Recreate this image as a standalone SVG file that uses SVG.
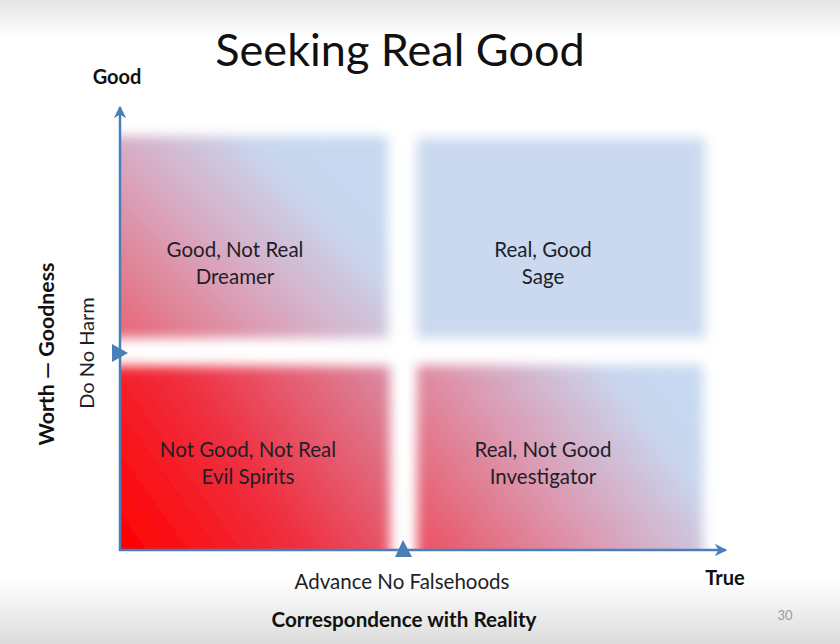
<svg xmlns="http://www.w3.org/2000/svg" width="840" height="644" viewBox="0 0 840 644">
<style>
.t{font-family:Lato,"Open Sans","Liberation Sans",sans-serif;fill:#1e1e28}
.q{font-size:20.5px;text-anchor:middle}
.b{font-weight:bold;font-size:20px;fill:#111}
.ax{stroke:#4a7ebb;stroke-width:2.5;fill:none}
</style>
<defs>
<linearGradient id="bg" x1="0" y1="0" x2="0" y2="1">
<stop offset="0" stop-color="#e4e4e4"/>
<stop offset="0.06" stop-color="#ffffff"/>
<stop offset="0.9" stop-color="#ffffff"/>
<stop offset="1" stop-color="#dcdcdc"/>
</linearGradient>
<linearGradient id="gLL" gradientUnits="userSpaceOnUse" x1="122" y1="550" x2="392" y2="360">
<stop offset="0" stop-color="#ff0000"/>
<stop offset="0.45" stop-color="#ef3040"/>
<stop offset="1" stop-color="#d890a8"/>
</linearGradient>
<linearGradient id="gUL" gradientUnits="userSpaceOnUse" x1="122" y1="345" x2="330" y2="135">
<stop offset="0" stop-color="#e86474"/>
<stop offset="0.45" stop-color="#d8a8c0"/>
<stop offset="0.8" stop-color="#c8d6ee"/>
<stop offset="1" stop-color="#c6d9f1"/>
</linearGradient>
<linearGradient id="gLR" gradientUnits="userSpaceOnUse" x1="415" y1="550" x2="660" y2="360">
<stop offset="0" stop-color="#ea5060"/>
<stop offset="0.45" stop-color="#dc98b0"/>
<stop offset="0.85" stop-color="#c8d6ee"/>
<stop offset="1" stop-color="#c6d9f1"/>
</linearGradient>
<filter id="soft" x="-10%" y="-10%" width="120%" height="120%">
<feGaussianBlur stdDeviation="6"/>
</filter>
<clipPath id="clipQ">
<rect x="121" y="90" width="640" height="459"/>
</clipPath>
<marker id="arr" viewBox="0 0 10 10" refX="9" refY="5" markerWidth="5" markerHeight="5" orient="auto" markerUnits="strokeWidth">
<path d="M0,0 L10,5 L0,10 L3,5 z" fill="#4a7ebb"/>
</marker>
</defs>
<rect x="0" y="0" width="840" height="644" fill="url(#bg)"/>
<g id="title"><text class="t" x="400" y="66" font-size="45" text-anchor="middle" style="fill:#111">Seeking Real Good</text></g>
<g clip-path="url(#clipQ)">
<g id="q-dreamer">
<rect x="110" y="136" width="278" height="202" fill="url(#gUL)" filter="url(#soft)"/>
</g>
<g id="q-sage">
<rect x="417" y="138" width="288" height="200" fill="#cad9ef" filter="url(#soft)"/>
</g>
<g id="q-evil">
<rect x="110" y="366" width="280" height="195" fill="url(#gLL)" filter="url(#soft)"/>
</g>
<g id="q-investigator">
<rect x="417" y="365" width="286" height="196" fill="url(#gLR)" filter="url(#soft)"/>
</g>
</g>
<g id="labels-q">
<text class="t q" x="235" y="257">Good, Not Real</text>
<text class="t q" x="235" y="284">Dreamer</text>
<text class="t q" x="543" y="257">Real, Good</text>
<text class="t q" x="543" y="284">Sage</text>
<text class="t q" x="248" y="457">Not Good, Not Real</text>
<text class="t q" x="248" y="484">Evil Spirits</text>
<text class="t q" x="543" y="457">Real, Not Good</text>
<text class="t q" x="543" y="484">Investigator</text>
</g>
<g id="connectors">
<line class="ax" x1="120" y1="551" x2="120" y2="107" marker-end="url(#arr)"/>
<line class="ax" x1="119" y1="550" x2="726" y2="550" marker-end="url(#arr)"/>
<path d="M112,344 L128,353 L112,362 z" fill="#4a7ebb"/>
<path d="M395,557 L403,540 L412,557 z" fill="#4a7ebb"/>
</g>
<g id="axis-labels">
<text class="t b" x="117" y="84" text-anchor="middle">Good</text>
<text class="t b" transform="translate(54,354) rotate(-90)" text-anchor="middle" textLength="183" lengthAdjust="spacingAndGlyphs">Worth — Goodness</text>
<text class="t" font-size="20" transform="translate(94,353) rotate(-90)" text-anchor="middle">Do No Harm</text>
<text class="t" font-size="20.5" x="402" y="589" text-anchor="middle">Advance No Falsehoods</text>
<text class="t b" x="404" y="627" text-anchor="middle" textLength="265" lengthAdjust="spacingAndGlyphs">Correspondence with Reality</text>
<text class="t b" x="725" y="585" text-anchor="middle">True</text>
<text x="785" y="620" font-family="Lato,'Liberation Sans',sans-serif" font-size="13" fill="#9a9a9a" text-anchor="middle">30</text>
</g>
</svg>
